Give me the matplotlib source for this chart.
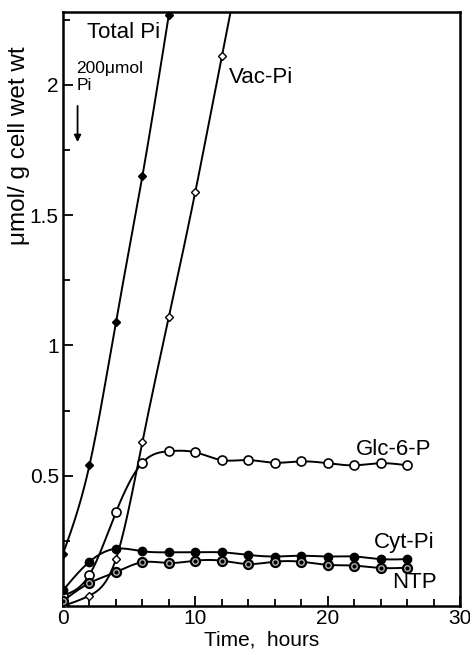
import numpy as np
import matplotlib
matplotlib.use("Agg")
import matplotlib.pyplot as plt
from matplotlib.ticker import MultipleLocator, FixedLocator

plt.rcParams['font.family'] = ['Liberation Sans', 'DejaVu Sans']

# ---- data ----
t_total = [0, 2, 4, 6, 8]
total_pi = [0.20, 0.54, 1.09, 1.65, 2.27]

t_vac = [0, 2, 4, 6, 8, 10, 12, 14]
vac_pi = [0.00, 0.04, 0.18, 0.63, 1.11, 1.59, 2.11, 2.62]

t_long = [0, 2, 4, 6, 8, 10, 12, 14, 16, 18, 20, 22, 24, 26]
glc6p = [0.04, 0.12, 0.36, 0.55, 0.594, 0.59, 0.56, 0.56, 0.55, 0.555, 0.548, 0.54, 0.548, 0.54]
cyt_pi = [0.06, 0.17, 0.22, 0.21, 0.206, 0.206, 0.206, 0.196, 0.19, 0.193, 0.19, 0.19, 0.18, 0.18]
ntp = [0.02, 0.088, 0.13, 0.168, 0.165, 0.174, 0.174, 0.161, 0.17, 0.17, 0.158, 0.155, 0.146, 0.147]

x_ticks = [0, 10, 20, 30]
y_ticks = [0.5, 1, 1.5, 2]
y_ticklabels = ["0.5", "1", "1.5", "2"]


def smooth(x, y, n=400):
    """Natural cubic spline through the points (for drawing only)."""
    x = np.asarray(x, float)
    y = np.asarray(y, float)
    m = len(x)
    h = np.diff(x)
    A = np.zeros((m, m))
    b = np.zeros(m)
    A[0, 0] = A[-1, -1] = 1
    for i in range(1, m - 1):
        A[i, i - 1] = h[i - 1]
        A[i, i] = 2 * (h[i - 1] + h[i])
        A[i, i + 1] = h[i]
        b[i] = 6 * ((y[i + 1] - y[i]) / h[i] - (y[i] - y[i - 1]) / h[i - 1])
    M = np.linalg.solve(A, b)
    xs = np.linspace(x[0], x[-1], n)
    idx = np.clip(np.searchsorted(x, xs) - 1, 0, m - 2)
    x0, x1 = x[idx], x[idx + 1]
    hh = x1 - x0
    a = (x1 - xs) / hh
    c = (xs - x0) / hh
    ys = (a * y[idx] + c * y[idx + 1]
          + ((a ** 3 - a) * M[idx] + (c ** 3 - c) * M[idx + 1]) * hh ** 2 / 6)
    return xs, ys


fig = plt.figure(figsize=(4.7, 6.5), dpi=100)
ax = fig.add_axes([63 / 470, 1 - 606 / 650, (460 - 63) / 470, (606 - 12) / 650])

lw = 1.4
k = 'black'
for xv, yv in [(t_total, total_pi), (t_vac, vac_pi), (t_long, glc6p), (t_long, cyt_pi), (t_long, ntp)]:
    xs, ys = smooth(xv, yv)
    ax.plot(xs, ys, color=k, lw=lw, zorder=2)

ax.plot(t_total, total_pi, ls='none', marker='D', ms=4.5, mfc=k, mec=k, zorder=3)
ax.plot(t_vac, vac_pi, ls='none', marker='D', ms=4.5, mfc='white', mec=k, mew=1.0, zorder=3)
ax.plot(t_long, glc6p, ls='none', marker='o', ms=6.5, mfc='white', mec=k, mew=1.2, zorder=3)
ax.plot(t_long, cyt_pi, ls='none', marker='o', ms=6, mfc=k, mec=k, zorder=3)
ax.plot(t_long, ntp, ls='none', marker='o', ms=6.5, mfc='#bbbbbb', mec=k, mew=1.6, zorder=3)
ax.plot(t_long, ntp, ls='none', marker='o', ms=2, mfc=k, mec=k, zorder=4)

ax.set_xlim(0, 30)
ax.set_ylim(0, 2.28)
ax.xaxis.set_major_locator(FixedLocator(x_ticks))
ax.xaxis.set_minor_locator(MultipleLocator(2))
ax.yaxis.set_major_locator(FixedLocator(y_ticks))
ax.yaxis.set_minor_locator(MultipleLocator(0.25))
ax.set_yticklabels(y_ticklabels)
ax.tick_params(which='both', direction='in', labelsize=15, width=1.3, top=False, right=False)
ax.tick_params(which='major', length=7)
ax.tick_params(which='minor', length=5)
ax.tick_params(axis='x', pad=2)
ax.tick_params(axis='y', pad=3)
for s in ax.spines.values():
    s.set_linewidth(1.8)

ax.set_xlabel("Time,  hours", fontsize=15, labelpad=2)
fig.text(0.041, 1 - 146 / 650, "μmol/ g cell wet wt", rotation=90, fontsize=17.5,
         ha='center', va='center')

fs = 16
ax.text(1.8, 2.2, "Total Pi", fontsize=fs, ha='left', va='center')
ax.text(12.5, 2.03, "Vac-Pi", fontsize=fs, ha='left', va='center')
ax.text(22.1, 0.60, "Glc-6-P", fontsize=fs, ha='left', va='center')
ax.text(23.5, 0.245, "Cyt-Pi", fontsize=fs, ha='left', va='center')
ax.text(24.9, 0.092, "NTP", fontsize=fs, ha='left', va='center')
ax.text(1.0, 2.09, "200μmol\nPi", fontsize=12.5, ha='left', va='top', linespacing=1.1)
ax.annotate("", xy=(1.1, 1.77), xytext=(1.1, 1.93),
            arrowprops=dict(arrowstyle='-|>', color=k, lw=1.3, mutation_scale=10))

fig.savefig("out.png", dpi=100)
